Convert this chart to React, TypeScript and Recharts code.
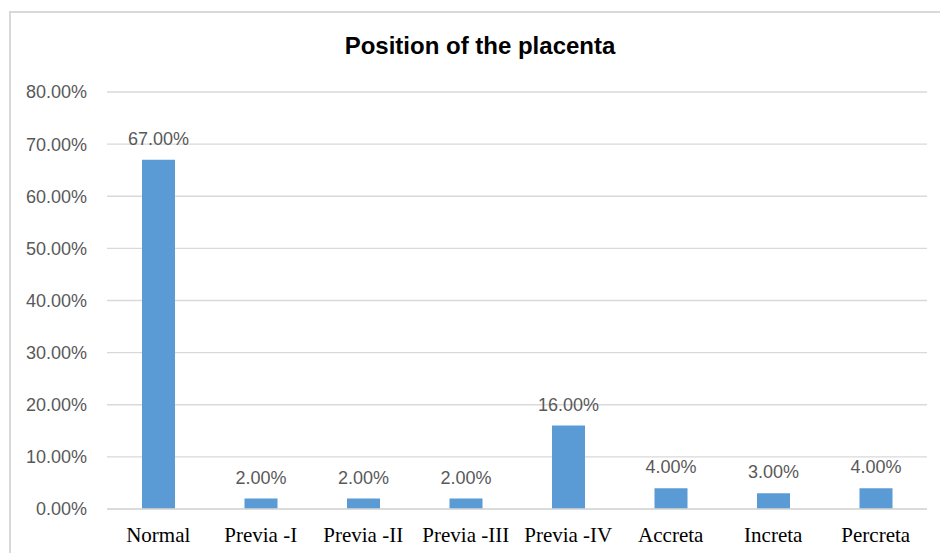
import React from 'react';
import { BarChart, Bar, XAxis, YAxis, CartesianGrid, LabelList } from 'recharts';

const categories = ['Normal', 'Previa -I', 'Previa -II', 'Previa -III', 'Previa -IV', 'Accreta', 'Increta', 'Percreta'];
const percentages = [67, 2, 2, 2, 16, 4, 3, 4];
const yTicks = [0, 10, 20, 30, 40, 50, 60, 70, 80];
const title = 'Position of the placenta';

const data = categories.map((name, i) => ({ name, value: percentages[i] }));
const fmt = (v: number) => `${Number(v).toFixed(2)}%`;

export default function App() {
  return (
    <div style={{ position: 'absolute', left: 0, top: 0, width: 940, height: 553, overflow: 'hidden', background: '#fff' }}>
      <div style={{ position: 'absolute', left: 9, top: 11, width: 960, height: 600, borderLeft: '2px solid #d9d9d9', borderTop: '2px solid #d9d9d9', boxSizing: 'border-box' }} />
      <div style={{ position: 'absolute', left: 0, top: 31, width: 960, textAlign: 'center', fontFamily: '"Liberation Sans", Arial, sans-serif', fontWeight: 'bold', fontSize: 24, lineHeight: '30px', color: '#000' }}>
        {title}
      </div>
      <div style={{ position: 'absolute', left: 0, top: 0 }}>
        <BarChart width={940} height={553} data={data} margin={{ top: 92, right: 13, bottom: 14, left: 0 }}>
          <CartesianGrid vertical={false} stroke="#d9d9d9" strokeWidth={1.3} />
          <XAxis
            dataKey="name"
            height={30}
            axisLine={{ stroke: '#d9d9d9', strokeWidth: 1.3 }}
            tickLine={false}
            tickSize={6}
            tickMargin={12}
            interval={0}
            tick={{ fill: '#000', fontSize: 21, fontFamily: '"Liberation Serif", "Times New Roman", serif' }}
          />
          <YAxis
            width={107}
            domain={[0, 80]}
            ticks={yTicks}
            tickFormatter={fmt}
            axisLine={false}
            tickLine={false}
            tickSize={6}
            tickMargin={14}
            tick={{ fill: '#595959', fontSize: 18, fontFamily: '"Liberation Sans", Arial, sans-serif' }}
          />
          <Bar dataKey="value" fill="#5B9BD5" barSize={33} isAnimationActive={false}>
            <LabelList
              dataKey="value"
              position="top"
              offset={15}
              formatter={fmt}
              fill="#595959"
              fontSize={18}
              fontFamily='"Liberation Sans", Arial, sans-serif'
            />
          </Bar>
        </BarChart>
      </div>
    </div>
  );
}
